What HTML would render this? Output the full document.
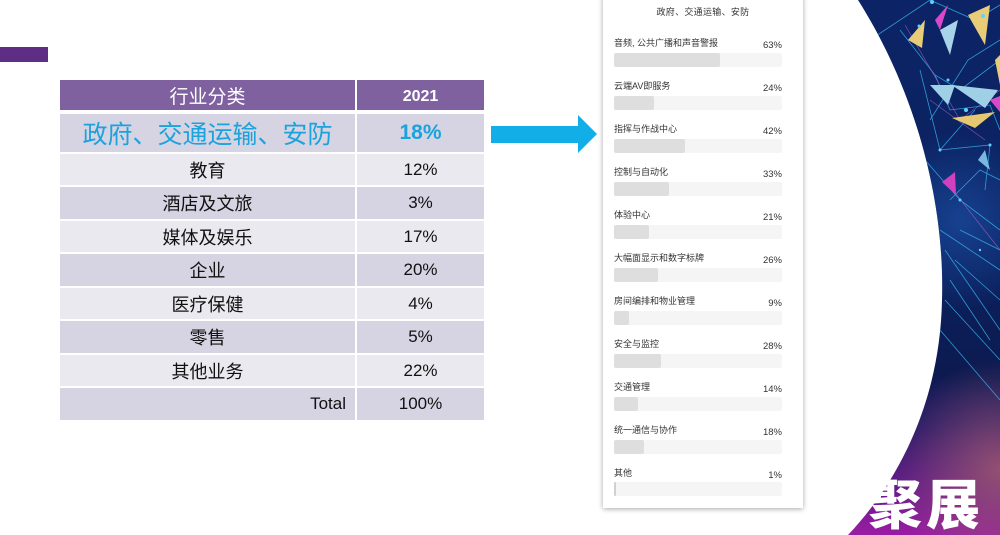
<!DOCTYPE html>
<html><head><meta charset="utf-8">
<style>
html,body{margin:0;padding:0;background:#fff;}
body{width:1000px;height:535px;position:relative;overflow:hidden;font-family:"Liberation Sans","Noto Sans CJK SC",sans-serif;}
.abs{position:absolute;}
.cell{position:absolute;display:flex;align-items:center;justify-content:center;color:#111;font-size:18px;}
.dk{background:#d6d3e3;}
.lt{background:#ebe9f0;}
.lbl{position:absolute;left:614px;font-size:9px;color:#333;line-height:10px;font-family:"Liberation Sans","Noto Sans CJK SC",sans-serif;}
.pct{position:absolute;right:218px;font-size:9.5px;color:#333;line-height:10px;}
.trk{position:absolute;left:614px;width:168px;height:14px;background:#f5f5f5;border-radius:2px;}
.fil{position:absolute;left:0;top:0;height:14px;background:#dedede;border-radius:2px;}
</style></head><body>

<!-- right decorative background -->
<svg class="abs" style="left:0;top:0" width="1000" height="535" viewBox="0 0 1000 535">
<defs>
<linearGradient id="bg" x1="0" y1="0" x2="0" y2="1">
<stop offset="0" stop-color="#0c2466"/>
<stop offset="0.5" stop-color="#0b215e"/>
<stop offset="0.7" stop-color="#0c1a50"/>
<stop offset="0.8" stop-color="#241868"/>
<stop offset="0.9" stop-color="#5e1a88"/>
<stop offset="1" stop-color="#9a1ca2"/>
</linearGradient>
<radialGradient id="rg" cx="1000" cy="470" r="110" gradientUnits="userSpaceOnUse">
<stop offset="0" stop-color="#9a5670" stop-opacity="0.9"/>
<stop offset="1" stop-color="#9a5670" stop-opacity="0"/>
</radialGradient>
<radialGradient id="glow" cx="960" cy="220" r="90" gradientUnits="userSpaceOnUse">
<stop offset="0" stop-color="#1f56b0" stop-opacity="0.6"/>
<stop offset="1" stop-color="#1f56b0" stop-opacity="0"/>
</radialGradient>
<clipPath id="cp"><path d="M858,0 C915,90 945,200 942,300 C940,400 900,480 848,535 L1000,535 L1000,0 Z"/></clipPath>
</defs>
<g clip-path="url(#cp)">
<rect x="840" y="0" width="160" height="535" fill="url(#bg)"/>
<rect x="840" y="100" width="160" height="260" fill="url(#glow)"/>
<rect x="840" y="360" width="160" height="175" fill="url(#rg)"/>
<g stroke="#38b8f0" stroke-width="0.8" fill="none" opacity="0.8">
<path d="M870,40 L930,0 L975,20 L1000,5"/>
<path d="M900,30 L935,75 L960,90 L1000,60"/>
<path d="M935,75 L950,110 L990,105 L1000,130"/>
<path d="M920,70 L940,150 L975,110"/>
<path d="M940,150 L990,145 L985,190"/>
<path d="M925,160 L960,200 L1000,230"/>
<path d="M940,230 L1000,270"/>
<path d="M945,250 L1000,330"/>
<path d="M945,300 L1000,360"/>
<path d="M940,330 L1000,400"/>
<path d="M950,200 L980,170 L1000,180"/>
<path d="M930,120 L968,60 L1000,40"/>
<path d="M955,260 L1000,300"/>
<path d="M960,230 L1000,250"/>
<path d="M950,280 L990,340"/>
</g>
<g stroke="#b060d0" stroke-width="0.7" fill="none" opacity="0.7">
<path d="M905,25 L960,120 L1000,90"/>
<path d="M945,180 L1000,250"/>
<path d="M930,100 L985,140"/>
</g>
<polygon points="968,15 990,5 985,45" fill="#e8cc78"/>
<polygon points="908,40 925,20 922,48" fill="#e8cc78"/>
<polygon points="995,60 1000,55 1000,85" fill="#e8cc78"/>
<polygon points="952,118 995,112 975,128" fill="#e6c870"/>
<polygon points="930,85 955,85 948,105" fill="#9fd0e6"/>
<polygon points="940,30 958,20 950,55" fill="#a8d4ea"/>
<polygon points="952,85 998,90 985,108" fill="#9fd0e6"/>
<polygon points="935,20 948,5 940,30" fill="#d848c8"/>
<polygon points="942,182 956,195 955,172" fill="#d040c0"/>
<polygon points="990,100 1000,96 1000,112" fill="#d848c8"/>
<polygon points="978,160 990,170 985,150" fill="#7ab8e0"/>
<g fill="#5fd0ff">
<circle cx="932" cy="2" r="2"/><circle cx="983" cy="16" r="2"/><circle cx="919" cy="26" r="1.5"/>
<circle cx="948" cy="80" r="1.5"/><circle cx="966" cy="110" r="2"/><circle cx="990" cy="145" r="1.5"/>
<circle cx="940" cy="150" r="1.5"/><circle cx="960" cy="200" r="1.5"/><circle cx="980" cy="250" r="1.2"/>
</g>
</g>
<text x="868" y="524" font-family="'Noto Sans CJK SC',sans-serif" font-weight="900" font-size="54" fill="#ffffff" letter-spacing="4">聚展</text>
</svg>

<!-- purple tab -->
<div class="abs" style="left:0;top:47px;width:48px;height:15px;background:#5e2d86;"></div>

<!-- table -->
<div class="cell" style="left:60px;top:80px;width:295px;height:30px;background:#7f61a0;color:#fff;font-size:19px;">行业分类</div>
<div class="cell" style="left:357px;top:80px;width:127px;height:30px;background:#7f61a0;color:#fff;font-size:16px;font-weight:bold;padding-top:3px;box-sizing:border-box;">2021</div>

<div class="cell dk" style="left:60px;top:114px;width:295px;height:38px;color:#1aa3dc;font-size:25px;">政府、交通运输、安防</div>
<div class="cell dk" style="left:357px;top:114px;width:127px;height:38px;color:#1aa3dc;font-size:21px;font-weight:bold;">18%</div>

<div class="cell lt" style="left:60px;top:154px;width:295px;height:31px;">教育</div>
<div class="cell lt" style="left:357px;top:154px;width:127px;height:31px;font-size:17px;">12%</div>

<div class="cell dk" style="left:60px;top:187px;width:295px;height:32px;">酒店及文旅</div>
<div class="cell dk" style="left:357px;top:187px;width:127px;height:32px;font-size:17px;">3%</div>

<div class="cell lt" style="left:60px;top:221px;width:295px;height:31px;">媒体及娱乐</div>
<div class="cell lt" style="left:357px;top:221px;width:127px;height:31px;font-size:17px;">17%</div>

<div class="cell dk" style="left:60px;top:254px;width:295px;height:32px;">企业</div>
<div class="cell dk" style="left:357px;top:254px;width:127px;height:32px;font-size:17px;">20%</div>

<div class="cell lt" style="left:60px;top:288px;width:295px;height:31px;">医疗保健</div>
<div class="cell lt" style="left:357px;top:288px;width:127px;height:31px;font-size:17px;">4%</div>

<div class="cell dk" style="left:60px;top:321px;width:295px;height:32px;">零售</div>
<div class="cell dk" style="left:357px;top:321px;width:127px;height:32px;font-size:17px;">5%</div>

<div class="cell lt" style="left:60px;top:355px;width:295px;height:31px;">其他业务</div>
<div class="cell lt" style="left:357px;top:355px;width:127px;height:31px;font-size:17px;">22%</div>

<div class="cell dk" style="left:60px;top:388px;width:295px;height:32px;justify-content:flex-end;font-size:17px;"><span style="padding-right:9px;">Total</span></div>
<div class="cell dk" style="left:357px;top:388px;width:127px;height:32px;font-size:17px;">100%</div>

<!-- arrow -->
<svg class="abs" style="left:488px;top:112px" width="112" height="44" viewBox="0 0 112 44">
<polygon points="3,14 90,14 90,3 109,22 90,41 90,31 3,31" fill="#12aee8"/>
</svg>

<!-- card -->
<div class="abs" style="left:603px;top:-4px;width:200px;height:512px;background:#fff;box-shadow:0 1px 5px rgba(0,0,0,0.35);"></div>
<div class="abs" style="left:603px;top:6px;width:200px;text-align:center;font-size:9px;color:#333;line-height:12px;letter-spacing:0.3px;">政府、交通运输、安防</div>

<div class="lbl" style="top:38px;">音频, 公共广播和声音警报</div><div class="pct" style="top:41px;">63%</div>
<div class="trk" style="top:53px;"><div class="fil" style="width:106px;"></div></div>

<div class="lbl" style="top:81px;">云端AV即服务</div><div class="pct" style="top:84px;">24%</div>
<div class="trk" style="top:96px;"><div class="fil" style="width:40px;"></div></div>

<div class="lbl" style="top:124px;">指挥与作战中心</div><div class="pct" style="top:127px;">42%</div>
<div class="trk" style="top:139px;"><div class="fil" style="width:71px;"></div></div>

<div class="lbl" style="top:167px;">控制与自动化</div><div class="pct" style="top:170px;">33%</div>
<div class="trk" style="top:182px;"><div class="fil" style="width:55px;"></div></div>

<div class="lbl" style="top:210px;">体验中心</div><div class="pct" style="top:213px;">21%</div>
<div class="trk" style="top:225px;"><div class="fil" style="width:35px;"></div></div>

<div class="lbl" style="top:253px;">大幅面显示和数字标牌</div><div class="pct" style="top:256px;">26%</div>
<div class="trk" style="top:268px;"><div class="fil" style="width:44px;"></div></div>

<div class="lbl" style="top:296px;">房间编排和物业管理</div><div class="pct" style="top:299px;">9%</div>
<div class="trk" style="top:311px;"><div class="fil" style="width:15px;"></div></div>

<div class="lbl" style="top:339px;">安全与监控</div><div class="pct" style="top:342px;">28%</div>
<div class="trk" style="top:354px;"><div class="fil" style="width:47px;"></div></div>

<div class="lbl" style="top:382px;">交通管理</div><div class="pct" style="top:385px;">14%</div>
<div class="trk" style="top:397px;"><div class="fil" style="width:24px;"></div></div>

<div class="lbl" style="top:425px;">统一通信与协作</div><div class="pct" style="top:428px;">18%</div>
<div class="trk" style="top:440px;"><div class="fil" style="width:30px;"></div></div>

<div class="lbl" style="top:468px;">其他</div><div class="pct" style="top:471px;">1%</div>
<div class="trk" style="top:482px;"><div class="fil" style="width:2px;background:#d0d0d0;"></div></div>

</body></html>
